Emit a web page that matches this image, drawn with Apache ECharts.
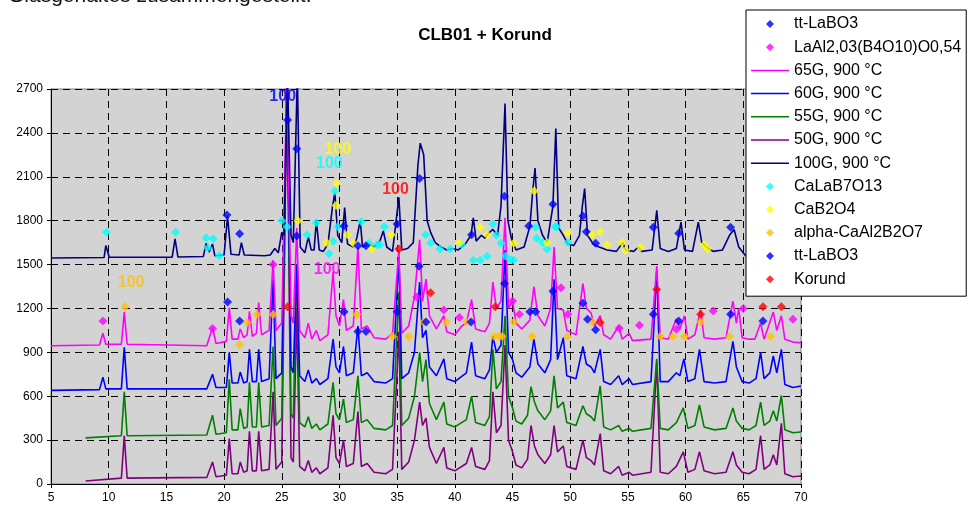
<!DOCTYPE html>
<html>
<head>
<meta charset="utf-8">
<script src="https://cdn.jsdelivr.net/npm/echarts@6/dist/echarts.min.js"></script>
<style>
  html, body { margin: 0; padding: 0; background: #fff; }
  #chart { width: 975px; height: 506px; }
</style>
</head>
<body>
<div id="chart"></div>
<script>
// XRD patterns, [2theta, counts]
const g65 = [[5,945],[9.2,950],[9.5,1030],[9.75,955],[11.1,955],[11.35,1175],[11.6,955],[18.5,945],[19.0,1070],[19.3,960],[20.2,975],[20.45,1205],[20.7,990],[21.2,990],[21.4,1060],[21.7,1000],[22.0,1020],[22.2,1180],[22.45,1010],[22.8,1030],[23.0,1240],[23.25,1020],[23.9,1050],[24.25,1530],[24.5,1050],[25.0,1100],[25.45,2800],[25.8,1150],[26.0,1100],[26.3,1750],[26.55,1050],[27.0,1000],[27.3,1100],[27.6,990],[28.0,1050],[28.3,980],[29.0,1020],[29.45,1450],[29.7,1150],[30.0,1080],[30.35,1260],[30.6,1050],[31.2,1080],[31.6,1620],[31.9,1060],[32.4,1080],[33.0,1000],[34.0,990],[34.6,1030],[35.15,1600],[35.4,1030],[36.0,1080],[36.5,1280],[36.95,1670],[37.2,1250],[37.5,1400],[37.8,1150],[38.4,1060],[39.05,1150],[39.3,1040],[40.0,1020],[40.6,1080],[41.0,1100],[41.45,1260],[41.8,1060],[42.6,1040],[43.0,1100],[43.3,1380],[43.6,1200],[44.0,1250],[44.35,1820],[44.65,1200],[45.0,1250],[45.3,1100],[45.8,1060],[46.5,1120],[46.85,1350],[47.2,1150],[47.8,1080],[48.3,1200],[48.6,1620],[48.9,1200],[49.4,1190],[49.7,1050],[50.5,1020],[51.1,1370],[51.4,1200],[51.8,1170],[52.1,1080],[52.6,1150],[52.9,1020],[53.5,990],[54.2,1080],[54.5,990],[55.1,1030],[55.4,980],[57.0,990],[57.5,1490],[57.8,1000],[58.5,990],[59.2,1130],[59.5,1060],[59.9,1150],[60.2,990],[60.8,1020],[61.3,1190],[61.6,1000],[62.5,990],[63.5,1000],[64.1,1250],[64.4,1100],[64.6,1200],[64.9,1000],[65.5,990],[66.0,990],[66.5,1100],[66.8,990],[67.6,1175],[67.9,1050],[68.3,1150],[68.6,990],[69.3,970],[70,965]];
const g60 = [[5,640],[9.2,645],[9.5,730],[9.75,650],[11.1,650],[11.35,935],[11.6,650],[18.5,650],[19.0,750],[19.3,660],[20.2,660],[20.45,900],[20.7,690],[21.2,690],[21.4,765],[21.7,690],[22.0,700],[22.2,920],[22.45,700],[22.8,700],[23.0,920],[23.25,700],[23.9,720],[24.25,1400],[24.5,720],[25.0,760],[25.45,2800],[25.8,800],[26.0,760],[26.3,1500],[26.55,740],[27.0,700],[27.3,780],[27.6,690],[28.0,720],[28.3,680],[29.0,720],[29.45,990],[29.7,800],[30.0,760],[30.35,940],[30.6,740],[31.2,760],[31.6,1080],[31.9,740],[32.4,760],[33.0,700],[34.0,690],[34.6,720],[35.15,1550],[35.4,720],[36.0,760],[36.5,900],[36.95,1380],[37.2,1000],[37.5,1050],[37.8,800],[38.4,740],[39.05,855],[39.3,720],[40.0,700],[41.0,760],[41.45,970],[41.8,740],[42.6,720],[43.0,780],[43.3,1010],[43.6,900],[44.0,950],[44.35,1600],[44.65,900],[45.0,850],[45.3,760],[45.8,730],[46.5,800],[46.85,990],[47.2,820],[47.8,760],[48.3,850],[48.6,1400],[48.9,850],[49.4,1000],[49.7,740],[50.5,720],[51.1,940],[51.4,820],[51.8,800],[52.1,760],[52.6,920],[52.9,700],[53.5,680],[54.2,740],[54.5,680],[55.1,720],[55.4,680],[57.0,700],[57.5,1460],[57.8,700],[58.5,700],[59.2,760],[59.5,740],[59.85,855],[60.2,700],[60.8,720],[61.2,920],[61.6,700],[62.5,690],[63.5,700],[64.1,975],[64.4,800],[64.9,700],[65.5,690],[66.1,720],[66.5,900],[66.8,720],[67.3,760],[67.6,875],[67.9,760],[68.3,920],[68.6,680],[69.3,660],[70,670]];
const g55 = [[8,315],[11.1,330],[11.35,630],[11.6,330],[18.5,335],[19.0,470],[19.3,340],[20.2,350],[20.45,715],[20.7,370],[21.2,370],[21.4,515],[21.7,380],[22.0,390],[22.2,695],[22.45,390],[22.8,390],[23.0,695],[23.25,390],[23.9,400],[24.25,940],[24.5,400],[25.0,450],[25.45,2800],[25.8,480],[26.0,450],[26.3,1500],[26.55,420],[27.0,390],[27.3,460],[27.6,380],[28.0,410],[28.3,370],[29.0,410],[29.45,695],[29.7,480],[30.0,440],[30.35,580],[30.6,420],[31.2,440],[31.6,740],[31.9,420],[32.4,440],[33.0,380],[34.0,370],[34.6,400],[35.15,1310],[35.4,400],[36.0,450],[36.5,600],[36.95,900],[37.2,700],[37.5,850],[37.8,550],[38.4,440],[39.05,560],[39.3,410],[40.0,390],[41.0,440],[41.45,600],[41.8,420],[42.6,400],[43.0,460],[43.3,920],[43.6,650],[44.0,700],[44.35,1150],[44.65,600],[45.0,520],[45.3,430],[45.8,410],[46.3,470],[46.6,665],[46.9,560],[47.2,500],[47.8,440],[48.3,500],[48.6,740],[48.9,520],[49.4,560],[49.7,420],[50.5,400],[51.1,535],[51.4,480],[51.8,460],[52.1,430],[52.6,670],[52.9,390],[53.5,370],[54.2,400],[54.5,360],[55.1,380],[55.4,360],[57.0,380],[57.5,855],[57.8,380],[58.5,370],[59.2,420],[59.8,520],[60.2,380],[60.8,400],[61.2,540],[61.6,390],[62.5,370],[63.5,380],[64.1,520],[64.4,430],[64.9,380],[65.5,370],[66.1,400],[66.5,560],[66.8,400],[67.3,430],[67.6,500],[67.9,430],[68.3,605],[68.6,370],[69.3,350],[70,355]];
const g50 = [[8,20],[11.1,40],[11.35,330],[11.6,40],[18.5,45],[19.0,150],[19.3,50],[20.2,60],[20.45,310],[20.7,70],[21.2,70],[21.4,150],[21.7,80],[22.0,90],[22.2,360],[22.45,90],[22.8,90],[23.0,360],[23.25,90],[23.9,100],[24.25,630],[24.5,100],[25.0,150],[25.45,2800],[25.8,180],[26.0,150],[26.3,1200],[26.55,120],[27.0,90],[27.3,160],[27.6,80],[28.0,110],[28.3,70],[29.0,110],[29.45,470],[29.7,180],[30.0,140],[30.35,300],[30.6,120],[31.2,140],[31.6,495],[31.9,120],[32.4,140],[33.0,80],[34.0,70],[34.6,100],[35.15,1040],[35.4,100],[36.0,150],[36.5,300],[36.95,560],[37.2,400],[37.5,450],[37.8,250],[38.4,140],[39.05,250],[39.3,110],[40.0,90],[41.0,140],[41.45,250],[41.8,120],[42.6,100],[43.0,160],[43.3,630],[43.6,350],[44.0,400],[44.35,950],[44.65,300],[45.0,220],[45.3,130],[45.8,110],[46.3,170],[46.6,400],[46.9,260],[47.2,200],[47.8,140],[48.3,200],[48.6,400],[48.9,220],[49.4,260],[49.7,120],[50.5,100],[51.1,300],[51.4,180],[51.8,160],[52.1,130],[52.6,345],[52.9,90],[53.5,70],[54.2,120],[54.5,60],[55.1,80],[55.4,60],[57.0,80],[57.5,835],[57.8,80],[58.5,70],[59.2,120],[59.8,220],[60.2,80],[60.8,100],[61.2,220],[61.6,90],[62.5,70],[63.5,80],[64.1,220],[64.4,130],[64.9,80],[65.5,70],[66.1,100],[66.5,330],[66.8,100],[67.3,130],[67.6,200],[67.9,130],[68.3,415],[68.6,70],[69.3,50],[70,55]];
const g100 = [[5,1545],[9.6,1548],[9.75,1630],[9.9,1630],[10.05,1550],[15.5,1550],[15.75,1675],[16.0,1552],[18.2,1555],[18.45,1645],[18.7,1585],[19.0,1640],[19.2,1560],[20.0,1565],[20.3,1830],[20.6,1570],[21.3,1565],[21.5,1650],[21.75,1565],[23.5,1560],[24.0,1565],[24.4,1610],[24.7,1580],[25.0,1720],[25.2,1700],[25.5,2800],[25.8,1700],[26.0,1650],[26.35,2800],[26.6,1620],[27.0,1580],[27.3,1690],[27.55,1600],[27.8,1600],[28.0,1800],[28.25,1600],[28.6,1590],[29.0,1640],[29.4,1900],[29.6,1990],[29.85,1700],[30.2,1650],[30.45,1890],[30.7,1640],[31.2,1620],[31.5,1680],[31.8,1800],[32.0,1620],[32.6,1640],[33.0,1620],[33.5,1660],[33.8,1730],[34.1,1620],[34.6,1590],[35.15,1960],[35.4,1600],[35.9,1610],[36.4,1650],[36.8,2180],[37.0,2330],[37.3,2250],[37.6,1800],[37.9,1720],[38.3,1650],[38.8,1620],[39.3,1600],[39.8,1610],[40.3,1600],[40.9,1640],[41.4,1700],[41.6,1820],[41.85,1660],[42.3,1700],[42.6,1680],[43.0,1720],[43.3,1740],[43.7,1700],[44.0,1900],[44.35,2600],[44.6,1800],[44.9,1680],[45.3,1600],[46.0,1620],[46.5,1760],[46.75,2000],[46.95,2160],[47.2,1800],[47.6,1700],[48.0,1650],[48.5,1900],[48.75,2430],[49.0,1750],[49.4,1700],[49.8,1640],[50.3,1630],[50.8,1700],[51.05,1900],[51.25,2020],[51.5,1700],[52.0,1640],[52.5,1620],[53.2,1600],[54.0,1590],[54.55,1650],[54.8,1600],[55.5,1590],[55.9,1620],[56.2,1590],[57.1,1600],[57.5,1870],[57.8,1610],[58.5,1590],[59.2,1610],[59.6,1790],[59.9,1600],[60.6,1590],[61.1,1790],[61.4,1650],[61.8,1620],[62.4,1590],[63.2,1600],[63.8,1700],[64.2,1740],[64.6,1620],[65.2,1560],[70,1550]];

// phase reflection markers
const ttLaBO3Upper = [[20.25,1838],[21.35,1710],[25.5,2488],[26.3,2291],[26.3,1696],[30.4,1764],[31.6,1628],[32.3,1628],[35.0,1778],[36.95,2088],[41.45,1703],[44.3,1967],[46.4,1764],[48.5,1913],[51.1,1832],[51.4,1725],[52.2,1646],[57.2,1755],[59.4,1714],[63.9,1755]];
const laAlBorate = [[9.5,1115],[19.0,1063],[24.25,1500],[36.7,1278],[39.05,1190],[40.4,1138],[45.0,1251],[45.6,1160],[49.2,1341],[49.8,1160],[54.25,1065],[56.0,1085],[59.2,1058],[62.4,1183],[65.0,1199],[69.3,1126]];
const caLaB7O13 = [[9.8,1720],[15.8,1720],[18.45,1682],[18.6,1615],[19.06,1676],[19.6,1560],[25.0,1800],[25.46,1759],[27.2,1703],[28.0,1786],[29.1,1574],[29.45,1657],[29.6,2003],[29.85,1759],[31.9,1793],[32.55,1646],[33.27,1635],[33.5,1635],[33.9,1759],[37.46,1703],[37.9,1648],[38.7,1606],[39.6,1606],[40.6,1635],[41.6,1529],[42.2,1529],[42.8,1556],[43.3,1778],[43.6,1701],[44.0,1646],[44.4,1556],[44.85,1533],[45.1,1529],[47.0,1755],[47.1,1680],[47.6,1651],[48.0,1606],[48.7,1759],[48.8,1759],[49.8,1651]];
const caB2O4 = [[26.4,1800],[28.9,1651],[29.74,2054],[29.7,1904],[30.7,1703],[31.2,1646],[32.8,1606],[34.5,1703],[40.4,1651],[42.2,1755],[42.8,1703],[45.1,1646],[46.87,2003],[48.0,1651],[49.8,1714],[51.9,1703],[52.6,1725],[53.2,1635],[54.5,1651],[54.8,1597],[56.1,1619],[61.6,1635],[61.9,1606]];
const alphaCaAl2B2O7 = [[11.42,1212],[21.35,952],[22.0,1104],[22.85,1158],[24.25,1158],[31.5,1158],[34.6,1009],[36.0,1009],[37.3,1108],[39.26,1108],[41.0,1108],[43.4,1009],[43.8,1009],[44.1,1009],[45.1,1108],[46.7,1009],[49.76,1009],[51.9,1108],[57.8,1009],[58.9,1009],[59.9,1009],[61.3,1108],[63.8,1009],[67.35,1009]];
const ttLaBO3Lower = [[20.3,1244],[21.35,1115],[30.4,1178],[31.6,1043],[32.3,1043],[35.0,1178],[36.9,1488],[37.5,1108],[41.4,1108],[44.3,1370],[46.5,1178],[47.0,1178],[48.5,1318],[51.1,1235],[51.5,1126],[52.2,1054],[57.2,1160],[59.4,1115],[63.9,1160],[66.7,1115]];
const korund = [[25.5,1212],[35.15,1606],[37.9,1307],[43.5,1212],[52.6,1104],[57.5,1330],[61.3,1160],[66.7,1212],[68.3,1212]];

// "100" strongest-line labels: [2theta, counts, phase]
const peakLabels = [[25.08,2648,'tt'],[29.85,2284,'cab'],[29.13,2193,'cala'],[34.86,2013,'kor'],[28.93,1465,'laal'],[11.94,1375,'alpha']];

const xTicks = { min: 5, max: 70, step: 5 };
const yTicks = { min: 0, max: 2700, step: 300 };

const colors = {
    tt: '#0000FF', laal: '#FF00FF', cala: '#00FFFF', cab: '#FFFF00',
    alpha: '#FFC000', kor: '#FF0000'
};
const FONT = 'Liberation Sans, Arial, sans-serif';
// icons drawn inside a fixed 38x14 box so they keep their size
const diamondIcon = 'path://M0,0M38,14M19,3L23,7L19,11L15,7Z';
const lineIcon = 'path://M0,0M38,14M0,6.25L38,6.25L38,7.75L0,7.75Z';

function lineSeries(name, data, color) {
    return {
        name: name,
        type: 'line',
        data: data,
        symbol: 'none',
        showSymbol: false,
        clip: true,
        lineStyle: { color: color, width: 1.6 },
        itemStyle: { color: color },
        z: 2
    };
}

function markerSeries(name, data, color) {
    return {
        name: name,
        type: 'scatter',
        data: data,
        symbol: 'diamond',
        symbolSize: 9,
        itemStyle: { color: color },
        z: 4
    };
}

function chart(dom) {
    const myChart = echarts.init(dom, null, { renderer: 'canvas' });
    const option = {
        animation: false,
        backgroundColor: '#fff',
        title: {
            text: 'CLB01 + Korund',
            left: 480,
            top: 22,
            textAlign: 'center',
            textStyle: { fontFamily: FONT, fontSize: 17, fontWeight: 'bold', color: '#000' }
        },
        graphic: [{
            type: 'text',
            left: 8,
            top: -14.5,
            style: { text: 'Glasgehaltes zusammengestellt.', font: '21px ' + FONT, fill: '#111' }
        }],
        grid: {
            left: 51, right: 174, top: 89, bottom: 22,
            show: true,
            backgroundColor: '#d3d3d3',
            borderColor: '#808080',
            borderWidth: 1
        },
        legend: {
            orient: 'vertical',
            left: 746,
            top: 10,
            padding: [6, 5, 9, 5],
            itemWidth: 38,
            itemHeight: 14,
            itemGap: 7.2,
            backgroundColor: '#fff',
            borderColor: '#000',
            borderWidth: 1,
            borderRadius: 0,
            textStyle: { fontFamily: FONT, fontSize: 16, color: '#000' },
            formatter: function (n) { return n.trim(); },
            data: [
                { name: 'tt-LaBO3', icon: diamondIcon },
                { name: 'LaAl2,03(B4O10)O0,54', icon: diamondIcon },
                { name: '65G, 900 °C', icon: lineIcon },
                { name: '60G, 900 °C', icon: lineIcon },
                { name: '55G, 900 °C', icon: lineIcon },
                { name: '50G, 900 °C', icon: lineIcon },
                { name: '100G, 900 °C', icon: lineIcon },
                { name: 'CaLaB7O13', icon: diamondIcon },
                { name: 'CaB2O4', icon: diamondIcon },
                { name: 'alpha-CaAl2B2O7', icon: diamondIcon },
                { name: 'tt-LaBO3 ', icon: diamondIcon },
                { name: 'Korund', icon: diamondIcon }
            ]
        },
        xAxis: {
            type: 'value',
            min: xTicks.min, max: xTicks.max, interval: xTicks.step,
            axisLine: { lineStyle: { color: '#000', width: 1 } },
            axisTick: { show: true, length: 4, lineStyle: { color: '#000' } },
            axisLabel: { fontFamily: FONT, fontSize: 12, color: '#000', margin: 8 },
            splitLine: { show: true, lineStyle: { color: '#000', type: [7, 5], width: 1 } }
        },
        yAxis: {
            type: 'value',
            min: yTicks.min, max: yTicks.max, interval: yTicks.step,
            axisLine: { show: true, lineStyle: { color: '#000', width: 1 } },
            axisTick: { show: true, length: 4, lineStyle: { color: '#000' } },
            axisLabel: {
                fontFamily: FONT, fontSize: 12, color: '#000', margin: 8,
                formatter: function (v) { return String(v); }
            },
            splitLine: { show: true, lineStyle: { color: '#000', type: [7, 5], width: 1 } }
        },
        series: [
            lineSeries('50G, 900 °C', g50, '#800080'),
            lineSeries('55G, 900 °C', g55, '#008000'),
            lineSeries('60G, 900 °C', g60, '#0000FF'),
            lineSeries('65G, 900 °C', g65, '#FF00FF'),
            lineSeries('100G, 900 °C', g100, '#000080'),
            markerSeries('CaLaB7O13', caLaB7O13, colors.cala),
            markerSeries('CaB2O4', caB2O4, colors.cab),
            markerSeries('alpha-CaAl2B2O7', alphaCaAl2B2O7, colors.alpha),
            markerSeries('LaAl2,03(B4O10)O0,54', laAlBorate, colors.laal),
            markerSeries('tt-LaBO3', ttLaBO3Upper, colors.tt),
            markerSeries('tt-LaBO3 ', ttLaBO3Lower, colors.tt),
            markerSeries('Korund', korund, colors.kor),
            {
                name: 'labels',
                type: 'scatter',
                symbolSize: 0,
                z: 5,
                silent: true,
                data: peakLabels.map(function (p) {
                    return {
                        value: [p[0], p[1]],
                        label: {
                            show: true,
                            position: 'inside',
                            formatter: '100',
                            fontFamily: FONT,
                            fontSize: 16,
                            fontWeight: 'bold',
                            color: colors[p[2]]
                        }
                    };
                })
            }
        ]
    };
    myChart.setOption(option);
    return myChart;
}

chart(document.getElementById('chart'));
</script>
</body>
</html>
